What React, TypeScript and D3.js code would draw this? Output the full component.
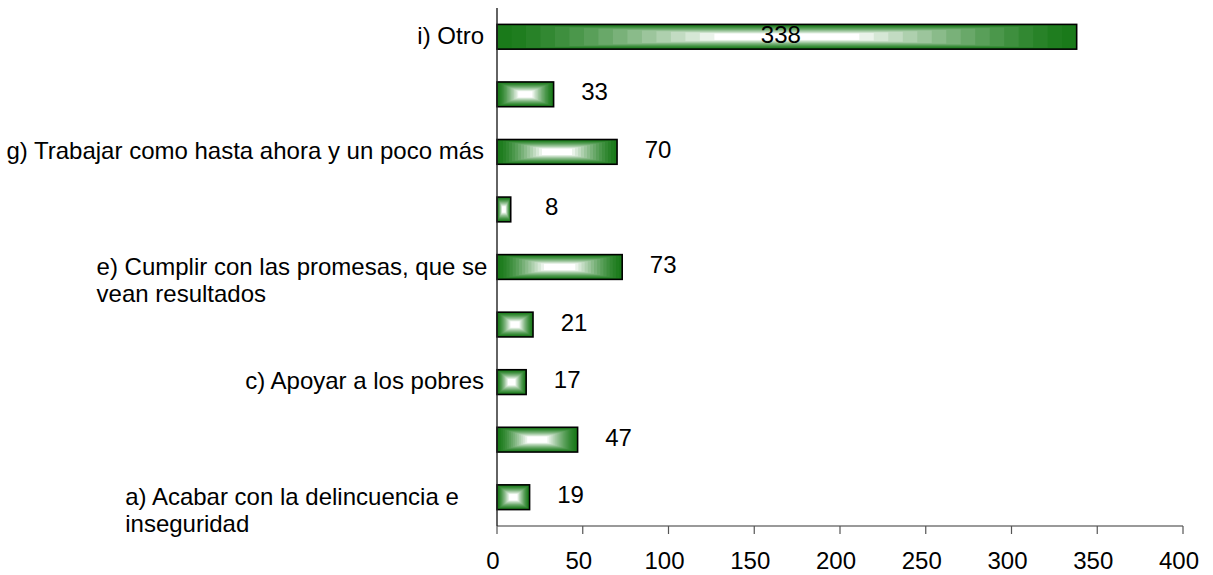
// App.tsx - horizontal bar chart with Excel-style rectangular gradient bars
import React, { useEffect, useRef } from 'react';
import * as d3 from 'd3';

const categories = [
  'a) Acabar con la delincuencia e inseguridad',
  'b)',
  'c) Apoyar a los pobres',
  'd)',
  'e) Cumplir con las promesas, que se vean resultados',
  'f)',
  'g) Trabajar como hasta ahora y un poco más',
  'h)',
  'i) Otro',
];
// how the long labels break into lines
const labelLines = [
  ['a) Acabar con la delincuencia e', 'inseguridad'],
  [],
  ['c) Apoyar a los pobres'],
  [],
  ['e) Cumplir con las promesas, que se', 'vean resultados'],
  [],
  ['g) Trabajar como hasta ahora y un poco más'],
  [],
  ['i) Otro'],
];
const values = [19, 47, 17, 21, 73, 8, 70, 33, 338];
const xTicks = [0, 50, 100, 150, 200, 250, 300, 350, 400];

const App = () => {
  const chartRef = useRef<SVGSVGElement>(null);

  useEffect(() => {
    drawChart();
  }, []);

  const drawChart = () => {
    const svg = d3.select(chartRef.current);
    svg.selectAll('*').remove();

    const width = 1213;
    const height = 575;
    const left = 497;
    const right = 1183;
    const top = 8;
    const bottom = 526;
    const font = 'Liberation Sans, Arial, sans-serif';
    const fontSize = 24;
    const green = '#1a7a1a';

    svg.attr('width', width).attr('height', height);

    const x = d3.scaleLinear().domain([0, 400]).range([left, right]);
    // first category at the bottom
    const y = d3
      .scaleBand()
      .domain(categories)
      .range([bottom, top])
      .paddingInner(0.57)
      .paddingOuter(0.285);

    // bars: nested rectangles fake the rectangular gradient
    const steps = 20;
    const color = d3.interpolateRgb(green, '#ffffff');
    const bars = svg
      .selectAll('g.bar')
      .data(values)
      .enter()
      .append('g')
      .attr('class', 'bar');

    bars.each(function (d, i) {
      const g = d3.select(this);
      const x0 = x(0);
      const w = x(d) - x0;
      const y0 = y(categories[i]) as number;
      const h = y.bandwidth();
      for (let k = 0; k < steps; k++) {
        const t = k / steps;
        g.append('rect')
          .attr('x', x0 + (t * w) / 2)
          .attr('y', y0 + (t * h) / 2)
          .attr('width', w * (1 - t))
          .attr('height', h * (1 - t))
          .attr('fill', color(Math.min(1, Math.pow(t / 0.75, 1.4))));
      }
      g.append('rect')
        .attr('x', x0)
        .attr('y', y0)
        .attr('width', w)
        .attr('height', h)
        .attr('fill', 'none')
        .attr('stroke', '#000')
        .attr('stroke-width', 1.6);
    });

    // value labels
    svg
      .selectAll('text.value')
      .data(values)
      .enter()
      .append('text')
      .attr('class', 'value')
      .attr('x', (d) => (d / 400 > 0.8 ? (x(0) + x(d)) / 2 - 6 : x(d) + 41))
      .attr('y', (_, i) => (y(categories[i]) as number) + y.bandwidth() / 2 + 6)
      .attr('text-anchor', 'middle')
      .style('font-family', font)
      .style('font-size', fontSize + 'px')
      .attr('fill', '#000')
      .text((d) => d);

    // x axis
    svg
      .append('line')
      .attr('x1', left)
      .attr('x2', right)
      .attr('y1', bottom)
      .attr('y2', bottom)
      .attr('stroke', '#777')
      .attr('stroke-width', 1.5);

    svg
      .selectAll('line.tick')
      .data(xTicks)
      .enter()
      .append('line')
      .attr('class', 'tick')
      .attr('x1', (d) => x(d))
      .attr('x2', (d) => x(d))
      .attr('y1', bottom)
      .attr('y2', bottom + 8)
      .attr('stroke', '#555')
      .attr('stroke-width', 1.2);

    svg
      .selectAll('text.tick')
      .data(xTicks)
      .enter()
      .append('text')
      .attr('class', 'tick')
      .attr('x', (d) => x(d) - 4)
      .attr('y', 569)
      .attr('text-anchor', 'middle')
      .style('font-family', font)
      .style('font-size', fontSize + 'px')
      .attr('fill', '#000')
      .text((d) => d);

    // y axis line
    svg
      .append('line')
      .attr('x1', left)
      .attr('x2', left)
      .attr('y1', top)
      .attr('y2', bottom)
      .attr('stroke', '#222')
      .attr('stroke-width', 1.4);

    // category labels, every other one like the original
    const labelRight = 484;
    const wrapWidth = 384;
    labelLines.forEach((lines, i) => {
      if (i % 2 !== 0 || lines.length === 0) return;
      const cy = (y(categories[i]) as number) + y.bandwidth() / 2;
      const t = svg
        .append('text')
        .style('font-family', font)
        .style('font-size', fontSize + 'px')
        .attr('fill', '#000');
      if (lines.length === 1) {
        t.attr('x', labelRight).attr('y', cy + 7).attr('text-anchor', 'end').text(lines[0]);
        return;
      }
      // wrapped labels: block centred in the wrap box, lines left-aligned
      const spans = lines.map((line, j) =>
        t.append('tspan').attr('y', cy + 8 + j * 26.5).text(line)
      );
      const widest = d3.max(spans, (s) => (s.node() as SVGTSpanElement).getComputedTextLength()) || 0;
      const blockLeft = labelRight - wrapWidth / 2 - widest / 2;
      spans.forEach((s) => s.attr('x', blockLeft));
    });
  };

  return (
    <svg
      ref={chartRef}
      style={{ position: 'absolute', left: 0, top: 0, background: '#fff' }}
    />
  );
};

export default App;
